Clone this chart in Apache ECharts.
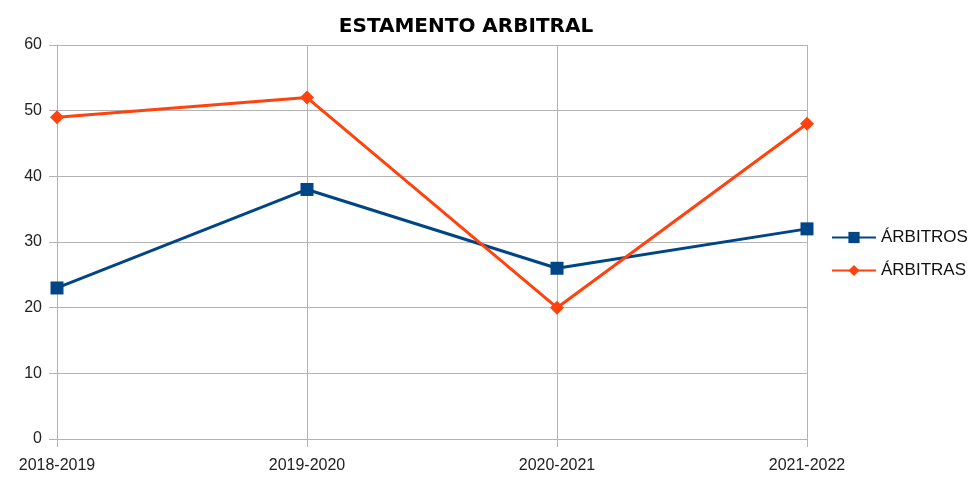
<!DOCTYPE html>
<html><head><meta charset="utf-8">
<script src="https://cdn.jsdelivr.net/npm/echarts@6/dist/echarts.min.js"></script>
<style>html,body{margin:0;padding:0;background:#fff}#c{width:978px;height:477px}</style>
</head><body><div id="c"></div>
<script>
const categories = ['2018-2019', '2019-2020', '2020-2021', '2021-2022'];
const arbitros = [23, 38, 26, 32];
const arbitras = [49, 52, 20, 48];
const yTicks = [0, 10, 20, 30, 40, 50, 60];

const chart = echarts.init(document.getElementById('c'));
const grey = '#b3b3b3';
chart.setOption({
  animation: false,
  backgroundColor: '#fff',
  title: {
    text: 'ESTAMENTO ARBITRAL', left: 461, top: 12, textAlign: 'center',
    textStyle: { fontFamily: 'DejaVu Sans', fontWeight: 'bold', fontSize: 20, color: '#000' }
  },
  grid: { left: 57, right: 171, top: 45, bottom: 38, containLabel: false },
  legend: {
    orient: 'vertical', left: 826, top: 224, itemGap: 16, itemWidth: 44, itemHeight: 14,
    textStyle: { fontFamily: 'Liberation Sans', fontSize: 17, color: '#111' },
    data: ['ÁRBITROS', 'ÁRBITRAS']
  },
  xAxis: {
    type: 'category', data: categories, boundaryGap: false,
    axisLine: { lineStyle: { color: grey } },
    axisTick: { show: true, length: 8, lineStyle: { color: grey } },
    axisLabel: { fontFamily: 'Liberation Sans', fontSize: 16, color: '#222', margin: 19 },
    splitLine: { show: true, lineStyle: { color: grey } }
  },
  yAxis: {
    type: 'value', min: 0, max: 60, interval: 10,
    axisLine: { show: true, lineStyle: { color: grey } },
    axisTick: { show: true, length: 8, lineStyle: { color: grey } },
    axisLabel: { fontFamily: 'Liberation Sans', fontSize: 16, color: '#222', margin: 15,
      formatter: v => yTicks.includes(v) ? String(v) : '' },
    splitLine: { show: true, lineStyle: { color: grey } }
  },
  series: [
    { name: 'ÁRBITROS', type: 'line', data: arbitros, symbol: 'rect', symbolSize: 13,
      lineStyle: { color: '#004586', width: 3 }, itemStyle: { color: '#004586' } },
    { name: 'ÁRBITRAS', type: 'line', data: arbitras, symbol: 'diamond', symbolSize: 14,
      lineStyle: { color: '#ff420e', width: 3 }, itemStyle: { color: '#ff420e' } }
  ]
});
</script></body></html>
